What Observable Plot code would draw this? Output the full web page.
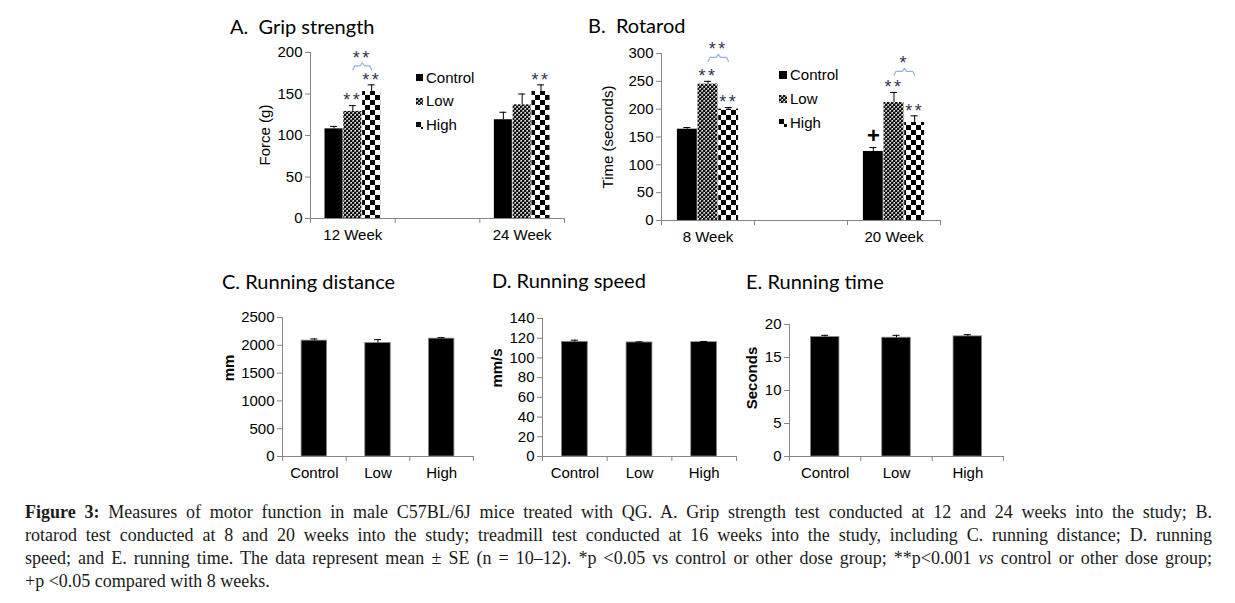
<!DOCTYPE html>
<html>
<head>
<meta charset="utf-8">
<script src="https://cdn.jsdelivr.net/npm/d3@7"></script>
<script src="https://cdn.jsdelivr.net/npm/@observablehq/plot@0.6"></script>
<style>
  body { margin: 0; background: #fff; }
  #root { position: relative; width: 1235px; height: 603px; overflow: hidden; font-family: "Liberation Sans", Arial, sans-serif; color: #000; }
  .panel { position: absolute; }
  .title { position: absolute; font-family: Lato, "Open Sans", sans-serif; font-size: 20px; line-height: 24px; white-space: pre; color: #000; }
  .ylab { position: absolute; transform: translate(-50%, -50%) rotate(-90deg); font-size: 15px; line-height: 18px; white-space: nowrap; }
  .ylab.b { font-weight: bold; }
  .leg { position: absolute; font-size: 15px; line-height: 18px; white-space: nowrap; }
  .sw { position: absolute; }
  #cap { position: absolute; left: 25px; top: 501px; width: 1187px; font-family: "Liberation Serif", "DejaVu Serif", serif; font-size: 18px; line-height: 23px; color: #1a1a1a; }
  #cap .j { text-align: justify; text-align-last: justify; white-space: nowrap; }
</style>
</head>
<body>
<svg width="0" height="0" style="position:absolute">
  <defs>
    <pattern id="patLow" width="4" height="4" patternUnits="userSpaceOnUse">
      <rect width="4" height="4" fill="#111"/>
      <rect x="2" y="0" width="2" height="2" fill="#8c8c8c"/>
      <rect x="0" y="2" width="2" height="2" fill="#8c8c8c"/>
      <rect x="3" y="0" width="1" height="1" fill="#eee"/>
      <rect x="1" y="2" width="1" height="1" fill="#eee"/>
    </pattern>
    <pattern id="patHigh" width="10" height="10" patternUnits="userSpaceOnUse">
      <rect width="10" height="10" fill="#fff"/>
      <rect x="0" y="0" width="5" height="5" fill="#000"/>
      <rect x="5" y="5" width="5" height="5" fill="#000"/>
    </pattern>
  </defs>
</svg>
<div id="root">
  <div class="title" style="left:230px;top:14px">A.  Grip strength</div>
  <div class="title" style="left:588px;top:13px">B.  Rotarod</div>
  <div class="title" style="left:222px;top:269px">C. Running distance</div>
  <div class="title" style="left:492px;top:268px">D. Running speed</div>
  <div class="title" style="left:746px;top:269px">E. Running time</div>

  <div class="ylab" style="left:265px;top:135px">Force (g)</div>
  <div class="ylab" style="left:608px;top:137px">Time (seconds)</div>
  <div class="ylab b" style="left:229px;top:368px">mm</div>
  <div class="ylab b" style="left:497px;top:368px">mm/s</div>
  <div class="ylab b" style="left:752px;top:378px">Seconds</div>

  <div id="legA"></div>
  <div id="legB"></div>

  <div id="cap">
    <div class="j"><b>Figure 3:</b> Measures of motor function in male C57BL/6J mice treated with QG. A. Grip strength test conducted at 12 and 24 weeks into the study; B.</div>
    <div class="j">rotarod test conducted at 8 and 20 weeks into the study; treadmill test conducted at 16 weeks into the study, including C. running distance; D. running</div>
    <div class="j">speed; and E. running time. The data represent mean ± SE (n = 10–12). *p &lt;0.05 vs control or other dose group; **p&lt;0.001 <i>vs</i> control or other dose group;</div>
    <div>+p &lt;0.05 compared with 8 weeks.</div>
  </div>
</div>
<script>
// ---------- data ----------
const doseGroups = ["Control", "Low", "High"];
const doseFills = ["#000", "url(#patLow)", "url(#patHigh)"];

const gripWeeks = ["12 Week", "24 Week"];
const gripSlots = ["12 Week", "", "24 Week"];
const gripControl = [108, 119];
const gripLow = [129, 137];
const gripHigh = [153, 153];
const gripControlSE = [3, 9];
const gripLowSE = [7, 13];
const gripHighSE = [8, 8];
const gripTicks = [0, 50, 100, 150, 200];

const rotarodWeeks = ["8 Week", "20 Week"];
const rotarodSlots = ["8 Week", "", "20 Week"];
const rotarodControl = [164, 124];
const rotarodLow = [245, 212];
const rotarodHigh = [200, 176];
const rotarodControlSE = [3, 7];
const rotarodLowSE = [5, 18];
const rotarodHighSE = [3, 12];
const rotarodTicks = [0, 50, 100, 150, 200, 250, 300];

const distanceMean = [2084, 2042, 2120];
const distanceSE = [30, 60, 18];
const distanceTicks = [0, 500, 1000, 1500, 2000, 2500];

const speedMean = [116.3, 115.7, 116.0];
const speedSE = [1.7, 0.6, 0.7];
const speedTicks = [0, 20, 40, 60, 80, 100, 120, 140];

const timeMean = [18.1, 18.0, 18.2];
const timeSE = [0.26, 0.36, 0.26];
const timeTicks = [0, 5, 10, 15, 20];

const gripStars = [
  {week: "12 Week", group: "Low", label: "**"},
  {week: "12 Week", group: "High", label: "**"},
  {week: "24 Week", group: "High", label: "**"}
];
const gripBrackets = [{week: "12 Week", from: "Low", to: "High", level: 184, label: "**"}];
const rotarodStars = [
  {week: "8 Week", group: "Low", label: "**"},
  {week: "8 Week", group: "High", label: "**"},
  {week: "20 Week", group: "Control", label: "+"},
  {week: "20 Week", group: "Low", label: "**"},
  {week: "20 Week", group: "High", label: "**"}
];
const rotarodBrackets = [
  {week: "8 Week", from: "Low", to: "High", level: 293, label: "**"},
  {week: "20 Week", from: "Low", to: "High", level: 268, label: "*"}
];

// ---------- drawing ----------
const GRAY = "#868686";
const GAP = 1.5;          // Excel-style gap width (fraction of bar width)
const STAR = "#2f3550";
const BRACKET = "#8eb4e3";

function panel(cfg) {
  const {slots, groups, series, means, ses, fills, yMax, ticks,
         stars = [], brackets = [], width, height, ml, mr, mt, mb, inset = 0, barStroke = "none"} = cfg;
  const n = series.length;
  const barW = 1 / (n + GAP);
  const plotW = width - ml - mr, plotH = height - mt - mb;
  const pxX = slots.length / plotW, pxY = yMax / plotH;
  const rows = [];
  groups.forEach((g, gi) => {
    const si = slots.indexOf(g);
    series.forEach((s, j) => {
      const xc = si + 0.5 + (j - (n - 1) / 2) * barW;
      const v = means[j][gi], e = ses[j][gi];
      rows.push({group: g, series: s, j, value: v, se: e, top: v + e, xc, x1: xc - barW / 2, x2: xc + barW / 2});
    });
  });
  const find = (g, s) => rows.find(r => r.group === g && r.series === s);
  const starRows = stars.map(s => ({...find(s.week, s.group), label: s.label}));
  const brPts = brackets.flatMap((b, k) => {
    const a = find(b.week, b.from).xc, c = find(b.week, b.to).xc, m = (a + c) / 2, L = b.level;
    return [[a, L - 4 * pxY], [a + 2 * pxX, L], [m - 2 * pxX, L], [m, L + 3 * pxY],
            [m + 2 * pxX, L], [c - 2 * pxX, L], [c, L - 4 * pxY]].map(([x, y]) => ({k, x, y}));
  });
  const brLabels = brackets.map(b => ({x: (find(b.week, b.from).xc + find(b.week, b.to).xc) / 2, y: b.level, label: b.label}));
  const cap = 3.5 * pxX;

  const svg = Plot.plot({
    width, height, marginLeft: ml, marginRight: mr, marginTop: mt, marginBottom: mb,
    x: {domain: [0, slots.length]},
    y: {domain: [0, yMax]},
    style: {fontFamily: '"Liberation Sans", Arial, sans-serif', fontSize: "15px", color: "black",
            background: "transparent", overflow: "visible", maxWidth: "none"},
    marks: [
      ...series.map((s, j) => Plot.rectY(rows.filter(r => r.j === j),
          {x1: "x1", x2: "x2", y: "value", fill: fills[j], insetLeft: inset, insetRight: inset,
           stroke: barStroke, strokeWidth: 0.8})),
      Plot.ruleX(rows, {x: "xc", y1: "value", y2: "top", stroke: "black", strokeWidth: 1}),
      Plot.ruleY(rows, {y: "top", x1: d => d.xc - cap, x2: d => d.xc + cap, stroke: "black", strokeWidth: 1}),
      Plot.axisY({ticks, tickFormat: d => String(d), tickSize: 5, tickPadding: 3, stroke: GRAY, fill: "black", label: null}),
      Plot.axisX({ticks: d3.range(slots.length + 1), tickFormat: () => "", tickSize: 5, stroke: GRAY, label: null}),
      Plot.ruleX([0], {stroke: GRAY}),
      Plot.ruleY([0], {stroke: GRAY}),
      Plot.text(groups, {x: g => slots.indexOf(g) + 0.5, frameAnchor: "bottom", dy: 21, text: d => d, fill: "black"}),
      Plot.text(starRows.filter(d => d.label !== "+"), {x: "xc", y: "top", text: "label", dy: -5, fill: STAR, fontSize: 18}),
      Plot.text(starRows.filter(d => d.label === "+"), {x: "xc", y: "top", text: "label", dy: -12, fill: "black", fontSize: 22, fontWeight: "bold"}),
      Plot.line(brPts, {x: "x", y: "y", z: "k", stroke: BRACKET, strokeWidth: 1.2}),
      Plot.text(brLabels, {x: "x", y: "y", text: "label", dy: -8, fill: STAR, fontSize: 18})
    ]
  });
  // widen the spacing between significance asterisks
  d3.select(svg).selectAll("text").filter(function () { return /^\*+$/.test(this.textContent); })
    .attr("letter-spacing", "2.5px");
  return svg;
}

function place(svg, left, top) {
  const d = document.createElement("div");
  d.className = "panel";
  d.style.left = left + "px";
  d.style.top = top + "px";
  d.appendChild(svg);
  document.getElementById("root").appendChild(d);
}

place(panel({slots: gripSlots, groups: gripWeeks, series: doseGroups,
  means: [gripControl, gripLow, gripHigh], ses: [gripControlSE, gripLowSE, gripHighSE],
  fills: doseFills, yMax: 200, ticks: gripTicks, stars: gripStars, brackets: gripBrackets,
  width: 344, height: 228, ml: 70, mr: 20, mt: 22, mb: 40, inset: 0.4}), 240, 30);

place(panel({slots: rotarodSlots, groups: rotarodWeeks, series: doseGroups,
  means: [rotarodControl, rotarodLow, rotarodHigh], ses: [rotarodControlSE, rotarodLowSE, rotarodHighSE],
  fills: doseFills, yMax: 300, ticks: rotarodTicks, stars: rotarodStars, brackets: rotarodBrackets,
  width: 369, height: 230, ml: 70, mr: 20, mt: 23, mb: 40, inset: 0.4}), 591, 30);

place(panel({slots: doseGroups, groups: doseGroups, series: ["Mean"],
  means: [distanceMean], ses: [distanceSE], fills: ["#000"], yMax: 2500, ticks: distanceTicks,
  width: 266, height: 191, ml: 60, mr: 15, mt: 17, mb: 35, barStroke: "#8a8a8a"}), 222, 300);

place(panel({slots: doseGroups, groups: doseGroups, series: ["Mean"],
  means: [speedMean], ses: [speedSE], fills: ["#000"], yMax: 140, ticks: speedTicks,
  width: 269, height: 191, ml: 60, mr: 15, mt: 18, mb: 35, barStroke: "#8a8a8a"}), 482, 300);

place(panel({slots: doseGroups, groups: doseGroups, series: ["Mean"],
  means: [timeMean], ses: [timeSE], fills: ["#000"], yMax: 20, ticks: timeTicks,
  width: 289, height: 191, ml: 60, mr: 15, mt: 24, mb: 35, barStroke: "#8a8a8a"}), 729, 300);

// legends
function legend(id, swLeft, textLeft, centers, size) {
  const host = document.getElementById(id);
  doseGroups.forEach((g, i) => {
    const sw = document.createElementNS("http://www.w3.org/2000/svg", "svg");
    sw.setAttribute("class", "sw");
    sw.setAttribute("width", size);
    sw.setAttribute("height", size);
    sw.style.left = swLeft + "px";
    sw.style.top = (centers[i] - size / 2) + "px";
    sw.innerHTML = `<rect width="${size}" height="${size}" fill="${doseFills[i]}"/>`;
    host.appendChild(sw);
    const t = document.createElement("div");
    t.className = "leg";
    t.style.left = textLeft + "px";
    t.style.top = (centers[i] - 9) + "px";
    t.textContent = g;
    host.appendChild(t);
  });
}
legend("legA", 416, 426, [77.5, 101, 125], 7);
legend("legB", 779, 790, [74.5, 99, 123], 8);
</script>
</body>
</html>
